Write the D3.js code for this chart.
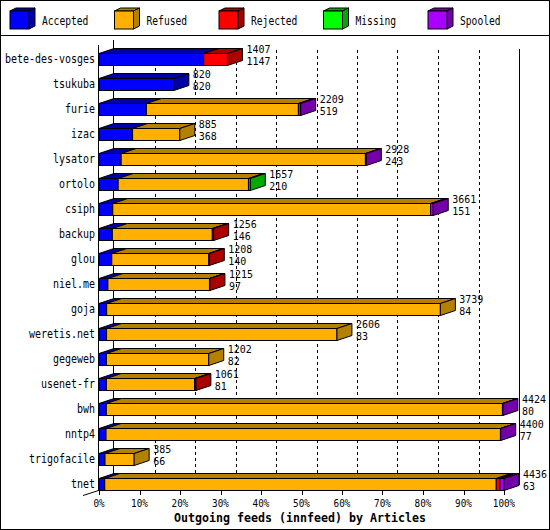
<!DOCTYPE html>
<html><head><meta charset="utf-8">
<script src="https://cdn.jsdelivr.net/npm/d3@7"></script>
<style>html,body{margin:0;padding:0;background:#fff}svg{display:block}</style>
</head><body>
<script>
const categories = ["bete-des-vosges","tsukuba","furie","izac","lysator","ortolo","csiph","backup","glou","niel.me","goja","weretis.net","gegeweb","usenet-fr","bwh","nntp4","trigofacile","tnet"];
const accepted = [1147, 820, 519, 368, 243, 210, 151, 146, 140, 97, 84, 83, 82, 81, 80, 77, 66, 63];
const refused  = [0, 0, 1665, 517, 2675, 1427, 3480, 1095, 1063, 1113, 3655, 2523, 1120, 965, 4339, 4320, 319, 4288];
const rejected = [260, 0, 0, 0, 0, 0, 0, 15, 5, 5, 0, 0, 0, 15, 0, 0, 0, 40];
const missing  = [0, 0, 0, 0, 0, 20, 0, 0, 0, 0, 0, 0, 0, 0, 0, 0, 0, 0];
const spooled  = [0, 0, 25, 0, 10, 0, 30, 0, 0, 0, 0, 0, 0, 0, 5, 3, 0, 45];
const seriesNames = ["Accepted","Refused","Rejected","Missing","Spooled"];
const seriesData = [accepted, refused, rejected, missing, spooled];
const frontColors = ["#0000ff","#ffb000","#ff0000","#00ff00","#aa00ff"];
const darkColors  = ["#0000a8","#b38000","#aa0000","#00a800","#7400aa"];
const tickValues = [0,0.1,0.2,0.3,0.4,0.5,0.6,0.7,0.8,0.9,1.0];
const xTitle = "Outgoing feeds (innfeed) by Articles";

const W = 550, H = 530;
const DX = 15, DY = 5, BH = 12;
const svg = d3.select("body").append("svg").attr("width", W).attr("height", H);
svg.append("rect").attr("x",0.5).attr("y",0.5).attr("width",W-1).attr("height",H-1).attr("fill","#fff").attr("stroke","#000");
svg.append("line").attr("x1",0).attr("x2",W).attr("y1",35.5).attr("y2",35.5).attr("stroke","#000");

const mono = "'DejaVu Sans Mono', 'Liberation Mono', monospace";
function txt(g, s, x, y, opts) {
  opts = opts || {};
  const cw = opts.cw || 6;
  return g.append("text").attr("x", x).attr("y", y).text(s)
    .attr("font-family", mono).attr("font-size", opts.fs || 11.5)
    .attr("font-weight", opts.bold ? "bold" : "normal")
    .attr("text-anchor", opts.anchor || "start")
    .attr("dominant-baseline", "central")
    .attr("textLength", s.length * cw).attr("lengthAdjust", "spacingAndGlyphs")
    .attr("fill", "#000");
}

// Legend
const lg = svg.append("g");
seriesNames.forEach((n, i) => {
  const x0 = 10 + i * 104.5, y0 = 11, s = 19, h = 18, d = 6, e = 3;
  const gx = lg.append("g");
  gx.append("polygon").attr("points", [[x0,y0],[x0+d,y0-e],[x0+s+d,y0-e],[x0+s,y0]].join(" "))
    .attr("fill", darkColors[i]).attr("stroke","#000");
  gx.append("polygon").attr("points", [[x0+s,y0],[x0+s+d,y0-e],[x0+s+d,y0+h-e],[x0+s,y0+h]].join(" "))
    .attr("fill", darkColors[i]).attr("stroke","#000");
  gx.append("rect").attr("x", x0).attr("y", y0).attr("width", s).attr("height", h)
    .attr("fill", frontColors[i]).attr("stroke","#000");
  txt(lg, n, x0 + 32, 20.5, {cw: 5.8});
});

const totals = categories.map((c, i) => seriesData.reduce((a, s) => a + s[i], 0));
const maxTotal = d3.max(totals);
const x = d3.scaleLinear().domain([0, 1]).range([99, 504]);
const y = d3.scalePoint().domain(categories).range([59, 484]);

// back wall / grid
const grid = svg.append("g");
grid.append("line").attr("x1", x(0)+DX-0.5).attr("x2", x(0)+DX-0.5).attr("y1", 40).attr("y2", 485).attr("stroke","#000");
grid.append("line").attr("x1", x(1)+DX+0.5).attr("x2", x(1)+DX+0.5).attr("y1", 49).attr("y2", 485).attr("stroke","#000");
grid.selectAll("line.g").data(tickValues.slice(1, -1)).enter().append("line")
  .attr("x1", d => Math.round(x(d)+DX)+0.5).attr("x2", d => Math.round(x(d)+DX)+0.5)
  .attr("y1", 50).attr("y2", 485).attr("stroke","#000").attr("stroke-dasharray","3,3");
grid.append("line").attr("x1", 83).attr("y1", 495.5).attr("x2", x(0)+DX).attr("y2", 485.5).attr("stroke","#000");
// front left axis
grid.append("line").attr("x1", x(0)-0.5).attr("x2", x(0)-0.5).attr("y1", 45).attr("y2", 490).attr("stroke","#000");

// bars
const bars = svg.append("g");
categories.forEach((c, i) => {
  const yc = y(c), y0 = Math.round(yc - BH/2) + 0.5, y1 = y0 + BH;
  let cum = 0;
  const segs = [];
  seriesData.forEach((s, k) => {
    const v = s[i];
    if (v > 0) { segs.push({k, a: cum, b: cum + v}); cum += v; }
  });
  const g = bars.append("g");
  segs.forEach(sg => {
    const xa = x(sg.a / maxTotal), xb = x(sg.b / maxTotal);
    g.append("polygon").attr("points", [[xa,y0],[xa+DX,y0-DY],[xb+DX,y0-DY],[xb,y0]].join(" "))
      .attr("fill", darkColors[sg.k]).attr("stroke","#000");
  });
  segs.forEach(sg => {
    const xa = x(sg.a / maxTotal), xb = x(sg.b / maxTotal);
    g.append("rect").attr("x", xa).attr("y", y0).attr("width", Math.max(0, xb - xa)).attr("height", BH)
      .attr("fill", frontColors[sg.k]).attr("stroke","#000");
  });
  const last = segs[segs.length - 1];
  const xe = x(cum / maxTotal);
  g.append("polygon").attr("points", [[xe,y0],[xe+DX,y0-DY],[xe+DX,y1-DY],[xe,y1]].join(" "))
    .attr("fill", darkColors[last.k]).attr("stroke","#000");
  txt(svg, String(totals[i]), xe + 19, y0 - 4.5, {fs: 10});
  txt(svg, String(accepted[i]), xe + 19, y0 + 7.5, {fs: 10});
  txt(svg, c, 95, yc, {anchor: "end"});
});

// x axis ticks
const ax = svg.append("g");
ax.selectAll("line.t").data(tickValues).enter().append("line")
  .attr("x1", d => Math.round(x(d))+0.5).attr("x2", d => Math.round(x(d))+0.5)
  .attr("y1", 490).attr("y2", 495).attr("stroke","#000");
tickValues.forEach(t => {
  const s = d3.format(".0%")(t);
  txt(ax, s, x(t), 503.5, {anchor: "middle", fs: 10, cw: 5.6});
});
txt(svg, xTitle, 300, 517.5, {anchor: "middle", bold: true, cw: 7});
</script>
</body></html>
